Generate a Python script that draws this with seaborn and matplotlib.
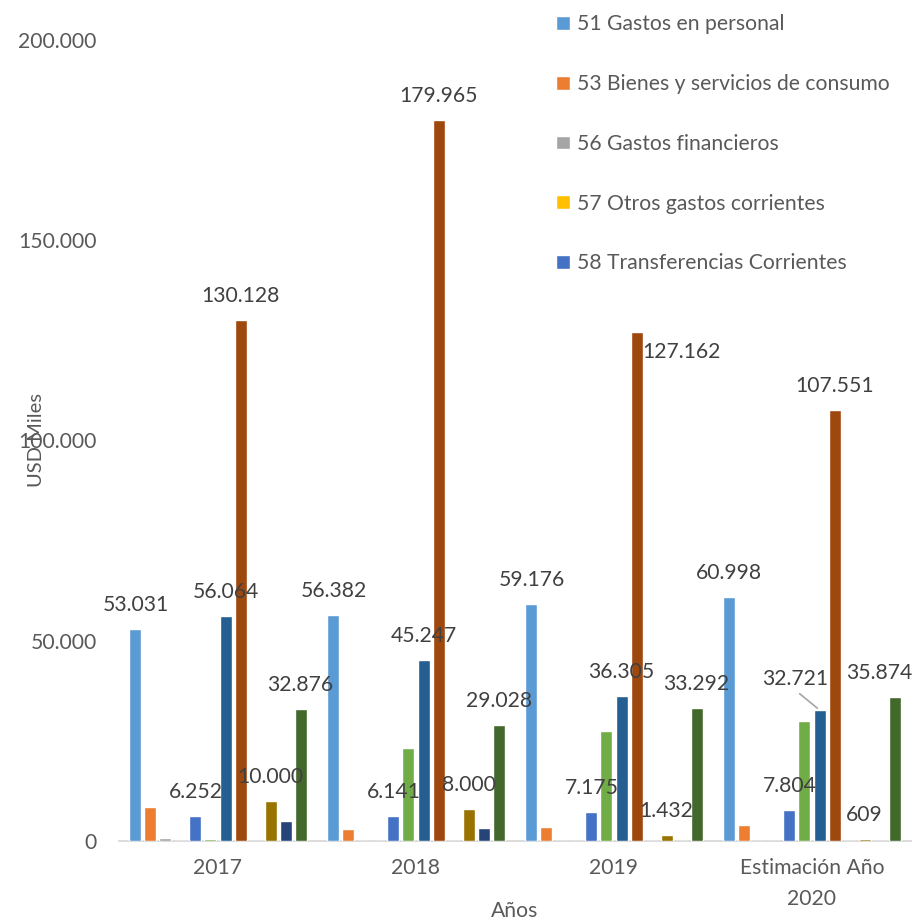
import matplotlib
matplotlib.use("Agg")
import matplotlib.pyplot as plt
import seaborn as sns
import pandas as pd

# ---------------- data ----------------
categories = ["2017", "2018", "2019", "Estimación Año\n2020"]

series_names = [
    "51 Gastos en personal",
    "53 Bienes y servicios de consumo",
    "56 Gastos financieros",
    "57 Otros gastos corrientes",
    "58 Transferencias Corrientes",
    "71 Gastos en personal para inversión",
    "73 Bienes y servicios para inversión",
    "75 Obras públicas",
    "77 Otros gastos de inversión",
    "78 Transferencias para inversión",
    "84 Bienes de larga duración",
    "96 Amortización de la deuda pública",
]

s51 = [53031, 56382, 59176, 60998]
s53 = [8500, 3000, 3600, 4000]
s56 = [650, 0, 0, 0]
s57 = [0, 0, 0, 0]
s58 = [6252, 6141, 7175, 7804]
s71 = [450, 23300, 27500, 30000]
s73 = [56064, 45247, 36305, 32721]
s75 = [130128, 179965, 127162, 107551]
s77 = [0, 0, 0, 0]
s78 = [10000, 8000, 1432, 609]
s84 = [5000, 3200, 0, 0]
s96 = [32876, 29028, 33292, 35874]

series_values = [s51, s53, s56, s57, s58, s71, s73, s75, s77, s78, s84, s96]

colors = ["#5B9BD5", "#ED7D31", "#A5A5A5", "#FFC000", "#4472C4", "#70AD47",
          "#255E91", "#9E480E", "#636363", "#997300", "#264478", "#43682B"]

labeled_series = [0, 4, 6, 7, 9, 11]
yticks = [0, 50000, 100000, 150000, 200000]
ytick_labels = ["0", "50.000", "100.000", "150.000", "200.000"]

# ---------------- frame ----------------
rows = []
for name, vals in zip(series_names, series_values):
    for cat, v in zip(categories, vals):
        rows.append({"Año": cat, "Serie": name, "Valor": v})
df = pd.DataFrame(rows)

sns.set_style("white")
plt.rcParams["font.family"] = ["Lato", "DejaVu Sans"]

FS = 15.2

fig = plt.figure(figsize=(9.15, 9.24), dpi=100)
ax = fig.add_axes([119 / 915, 1 - 841 / 924, (911 - 119) / 915, (841 - 40) / 924])

sns.barplot(data=df, x="Año", y="Valor", hue="Serie", order=categories,
            hue_order=series_names, palette=colors, width=0.91, gap=0.2,
            saturation=1, errorbar=None, ax=ax, legend=True, zorder=3)

ax.set_xlim(-0.5, 3.5)
ax.set_ylim(0, 200000)
ax.set_yticks(yticks)
ax.set_yticklabels(ytick_labels)
ax.tick_params(axis="y", length=0, pad=16, labelsize=FS, labelcolor="#595959")
ax.tick_params(axis="x", length=0, pad=12, labelsize=FS, labelcolor="#595959")
for lab in ax.get_xticklabels():
    lab.set_linespacing(1.7)
for s in ["top", "right", "left"]:
    ax.spines[s].set_visible(False)
ax.spines["bottom"].set_color("#D9D9D9")
ax.spines["bottom"].set_linewidth(1.3)
ax.spines["bottom"].set_zorder(1)
ax.grid(False)

ax.set_xlabel("")
ax.set_ylabel("")
fig.text(515 / 915, 1 - 911 / 924, "Años", fontsize=FS, color="#595959",
         ha="center", va="center")
fig.text(36 / 915, 1 - 440 / 924, "USD Miles", rotation=90, fontsize=14.5,
         color="#595959", ha="center", va="center")

# ---------------- data labels ----------------
# label offsets in pixels (dx, dy) relative to bar top centre
default_off = (0, 24)
special_off = {(7, 2): (45, -20), (6, 3): (-24, 31), (11, 3): (-15, 24)}

containers = ax.containers
for si in labeled_series:
    cont = containers[si]
    for ci, bar in enumerate(cont.patches):
        v = series_values[si][ci]
        txt = f"{v:,}".replace(",", ".")
        xc = bar.get_x() + bar.get_width() / 2
        yt = bar.get_height()
        dx, dy = special_off.get((si, ci), default_off)
        ax.annotate(txt, (xc, yt), xytext=(dx, dy), textcoords="offset pixels",
                    ha="center", va="center", fontsize=FS, color="#404040",
                    annotation_clip=False, zorder=5)
        if (si, ci) == (6, 3):
            ax.annotate("", (xc, yt), xytext=(dx + 2, dy - 13),
                        textcoords="offset pixels",
                        arrowprops=dict(arrowstyle="-", color="#A5A5A5", lw=1.2))

# ---------------- legend (first five entries only) ----------------
handles, labels = ax.get_legend_handles_labels()
ax.legend(handles[:5], labels[:5], loc="upper left",
          bbox_to_anchor=(548 / 915, 1 - 6 / 924), bbox_transform=fig.transFigure,
          frameon=False, fontsize=FS, labelcolor="#595959",
          handlelength=0.62, handleheight=0.62, handletextpad=0.35,
          labelspacing=1.88, borderaxespad=0)

fig.savefig("out.png", dpi=100)
